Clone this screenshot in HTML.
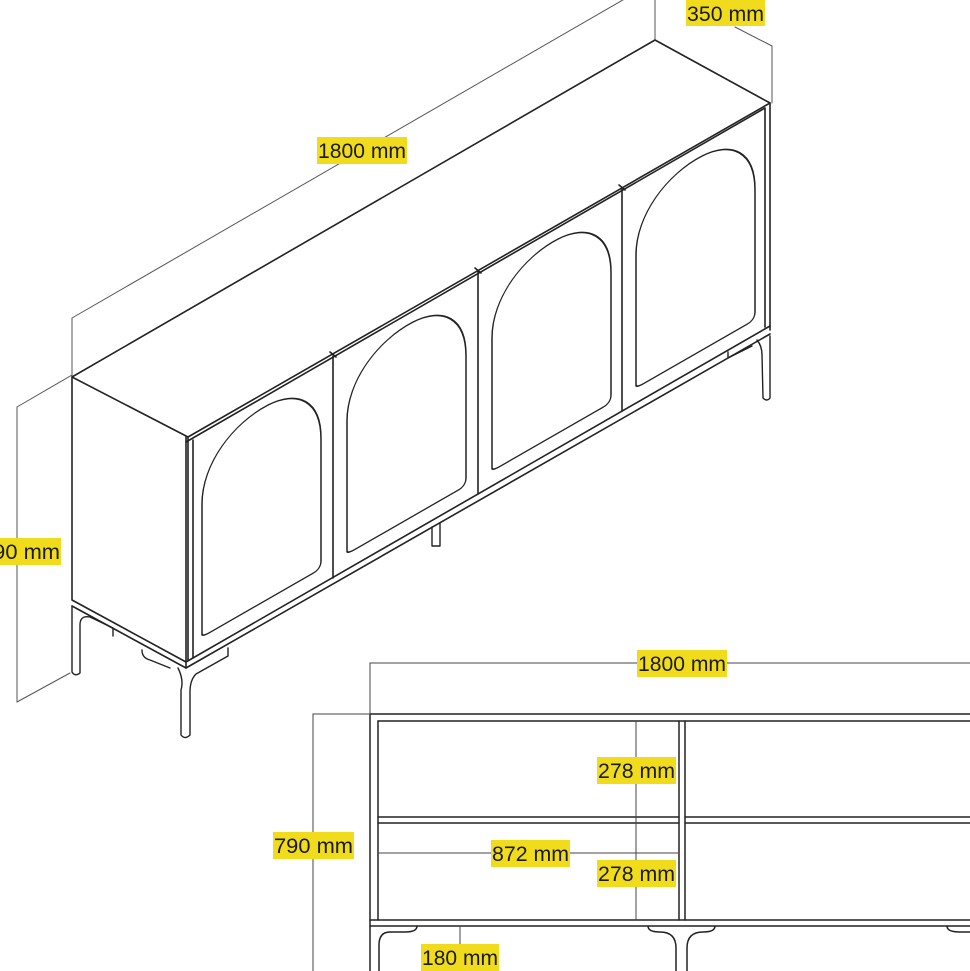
<!DOCTYPE html>
<html><head><meta charset="utf-8">
<style>
html,body{margin:0;padding:0;background:#fff;}
svg{display:block;}
.t{font-family:"Liberation Sans",sans-serif;font-size:21px;fill:#1a1a1a;}
</style></head>
<body>
<svg width="970" height="971" viewBox="0 0 970 971" xmlns="http://www.w3.org/2000/svg">
<g fill="none" stroke="#222" stroke-linejoin="round" stroke-linecap="round">
<!-- dimension lines iso -->
<g stroke="#555" stroke-width="1">
<line x1="72" y1="377" x2="72" y2="318"/>
<line x1="72" y1="318" x2="628" y2="-3"/>
<line x1="655" y1="40" x2="655" y2="-5"/>
<line x1="772" y1="103" x2="772" y2="46"/>
<line x1="772" y1="46" x2="735" y2="27"/>
<line x1="72" y1="375" x2="17" y2="407"/>
<line x1="17" y1="407" x2="17" y2="702"/>
<line x1="70" y1="673" x2="17" y2="702"/>
</g>
<!-- top -->
<g stroke-width="1.6">
<path d="M72,377 L655,40 L770,103 L188,437 Z"/>
<path d="M72,377 L72,600 L186,662 L186,437"/>
<path d="M188,437 L188,660 M193,440 L193,657"/>
<path d="M186,442 L765,108 L765,327 M770,103 L770,330"/>
<path d="M186,662 L770,326"/>
<path d="M72,606 L186,668 L770,334"/>
<path d="M186,662 L186,668"/>
<!-- door dividers -->
<path d="M333,356 L333,578 M478,272 L478,494 M622,189 L622,411"/>
<path d="M330,352 L336,357 M475,268 L481,273 M619,185 L625,190"/>
</g>
<!-- arches -->
<g stroke-width="1.5">
<g transform="matrix(1,-0.574,0,1,188,437)"><path d="M14,205 V75 C14,35 45,12 80,14 C110,16 133,40 133,78 V200 Q133,208 125,208 L22,208 Q14,208 14,205 Z"/></g>
<g transform="matrix(1,-0.574,0,1,333,354)"><path d="M14,205 V75 C14,35 45,12 80,14 C110,16 133,40 133,78 V200 Q133,208 125,208 L22,208 Q14,208 14,205 Z"/></g>
<g transform="matrix(1,-0.574,0,1,478,271)"><path d="M14,205 V75 C14,35 45,12 80,14 C110,16 133,40 133,78 V200 Q133,208 125,208 L22,208 Q14,208 14,205 Z"/></g>
<g transform="matrix(1,-0.574,0,1,622,188)"><path d="M14,205 V75 C14,35 45,12 80,14 C110,16 133,40 133,78 V200 Q133,208 125,208 L22,208 Q14,208 14,205 Z"/></g>
</g>
<!-- legs iso -->
<g stroke-width="1.4">
<path d="M72,606 L72,672 Q75,677 80,673 L80,625 Q80,615 90,617 L113,628 L113,636"/>
<path d="M178,668 Q184,680 181,690 L181,735 Q185,740 190,735 L190,692 Q190,680 196,674 L228,656 L228,648"/>
<path d="M142,650 Q142,658 150,660 L170,668"/>
<path d="M432,527 L432,546 L440,546 L440,523"/>
<path d="M757,340 Q762,346 762,355 L763,398 Q767,402 770,398 L770,336"/>
<path d="M728,352 L728,358 L752,346"/>
</g>
<!-- front view -->
<g stroke-width="1.5">
<line x1="370" y1="714" x2="970" y2="714"/>
<line x1="378" y1="721" x2="970" y2="721"/>
<line x1="370" y1="714" x2="370" y2="971"/>
<line x1="378" y1="721" x2="378" y2="920"/>
<line x1="378" y1="817" x2="679" y2="817"/>
<line x1="378" y1="823" x2="679" y2="823"/>
<line x1="685" y1="817" x2="970" y2="817"/>
<line x1="685" y1="823" x2="970" y2="823"/>
<line x1="679" y1="721" x2="679" y2="920"/>
<line x1="685" y1="721" x2="685" y2="920"/>
<line x1="370" y1="920" x2="970" y2="920"/>
<line x1="370" y1="926" x2="970" y2="926"/>
<path d="M417,926 Q417,932 405,932 L390,932 Q379,932 379,945 L379,971"/>
<path d="M648,926 Q648,932 660,932 Q676,932 676,948 L676,971"/>
<path d="M715,926 Q715,932 703,932 Q687,932 687,948 L687,971"/>
<path d="M947,926 Q947,932 960,932 L970,932"/>
</g>
<g stroke="#444" stroke-width="1">
<line x1="370" y1="663" x2="970" y2="663"/>
<line x1="370" y1="663" x2="370" y2="714"/>
<line x1="313" y1="714" x2="370" y2="714"/>
<line x1="313" y1="714" x2="313" y2="971"/>
<line x1="636" y1="721" x2="636" y2="920"/>
<line x1="378" y1="853" x2="679" y2="853"/>
<line x1="460" y1="926" x2="460" y2="945"/>
</g>
</g>
<!-- labels -->
<g fill="#f0dc1c">
<rect x="317" y="137" width="90" height="27"/>
<rect x="686" y="0" width="79" height="26"/>
<rect x="-20" y="538" width="81" height="27"/>
<rect x="637" y="650" width="90" height="27"/>
<rect x="597" y="757" width="79" height="27"/>
<rect x="597" y="860" width="79" height="27"/>
<rect x="491" y="840" width="79" height="27"/>
<rect x="421" y="944" width="78" height="27"/>
<rect x="273" y="832" width="81" height="27"/>
</g>
<g class="t">
<text x="318" y="158" textLength="88" lengthAdjust="spacingAndGlyphs">1800 mm</text>
<text x="687" y="21" textLength="77" lengthAdjust="spacingAndGlyphs">350 mm</text>
<text x="-19" y="559" textLength="79" lengthAdjust="spacingAndGlyphs">790 mm</text>
<text x="638" y="671" textLength="88" lengthAdjust="spacingAndGlyphs">1800 mm</text>
<text x="598" y="778" textLength="77" lengthAdjust="spacingAndGlyphs">278 mm</text>
<text x="598" y="881" textLength="77" lengthAdjust="spacingAndGlyphs">278 mm</text>
<text x="492" y="861" textLength="77" lengthAdjust="spacingAndGlyphs">872 mm</text>
<text x="422" y="965" textLength="76" lengthAdjust="spacingAndGlyphs">180 mm</text>
<text x="274" y="853" textLength="79" lengthAdjust="spacingAndGlyphs">790 mm</text>
</g>
</svg>
</body></html>
